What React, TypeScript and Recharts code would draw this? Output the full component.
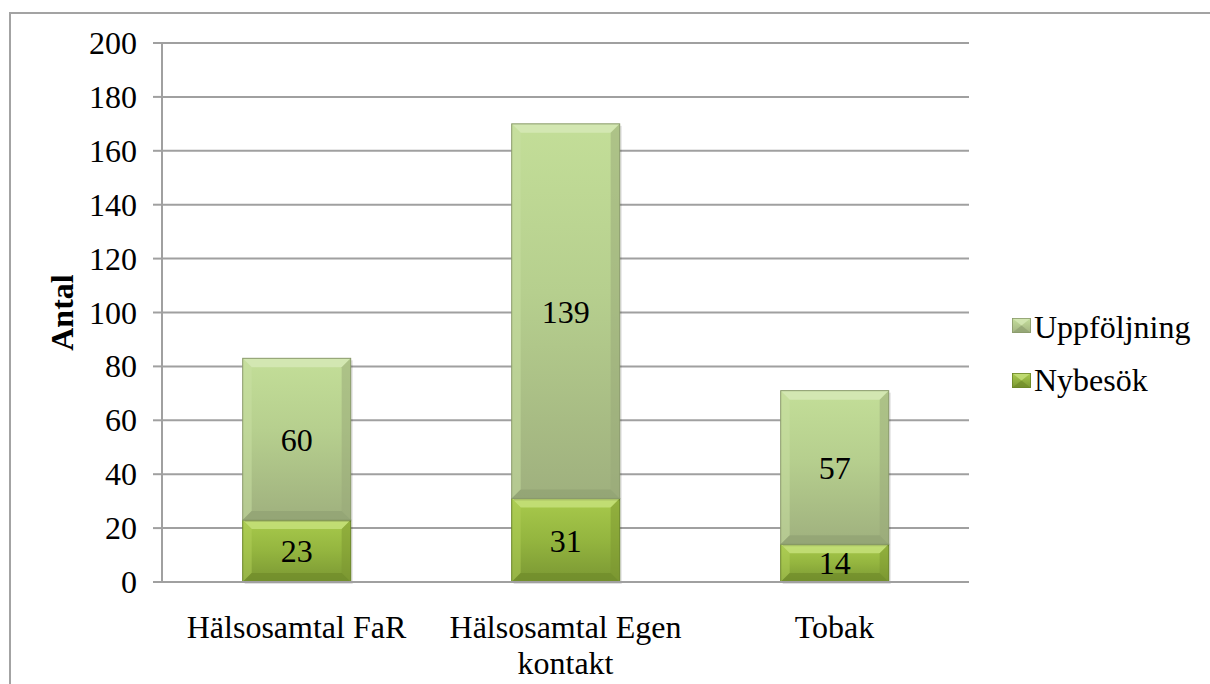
import React from 'react';
import { BarChart, Bar, XAxis, YAxis, CartesianGrid, LabelList } from 'recharts';

const categories = ['Hälsosamtal FaR', 'Hälsosamtal Egen kontakt', 'Tobak'];
const nybesok = [23, 31, 14];
const uppfoljning = [60, 139, 57];
const yTicks = [0, 20, 40, 60, 80, 100, 120, 140, 160, 180, 200];
const boundaryTicks = [0, 1, 2, 3];
const seriesNames = ['Nybesök', 'Uppföljning'];

const data = categories.map((c, i) => ({ name: c, nybesok: nybesok[i], uppfoljning: uppfoljning[i] }));

const FONT = "'Liberation Serif', 'DejaVu Serif', 'Times New Roman', serif";
const FS = 32;

type Pal = { grad: string; top: string; left: string; right: string; bottom: string; edge: string };
const palUpp: Pal = { grad: 'gUpp', top: '#d6e9b6', left: '#c9e0a3', right: '#97a878', bottom: '#8f9f71', edge: '#8a9a6c' };
const palNy: Pal = { grad: 'gNy', top: '#c6e07a', left: '#b2d05a', right: '#7b9630', bottom: '#6f8a2a', edge: '#6b8628' };

const BevelBar = (pal: Pal) => (props: any) => {
  const { x, y, width, height } = props;
  if (!height || height <= 0) return null;
  const b = Math.min(9, height / 3, width / 3);
  const x2 = x + width;
  const y2 = y + height;
  return (
    <g>
      <rect x={x + 2} y={y + 2} width={width} height={height} fill="rgba(0,0,0,0.12)" />
      <rect x={x} y={y} width={width} height={height} fill={`url(#${pal.grad})`} />
      <polygon points={`${x},${y} ${x2},${y} ${x2 - b},${y + b} ${x + b},${y + b}`} fill={pal.top} opacity={0.85} />
      <polygon points={`${x},${y} ${x + b},${y + b} ${x + b},${y2 - b} ${x},${y2}`} fill={pal.left} opacity={0.5} />
      <polygon points={`${x2},${y} ${x2},${y2} ${x2 - b},${y2 - b} ${x2 - b},${y + b}`} fill={pal.right} opacity={0.5} />
      <polygon points={`${x},${y2} ${x + b},${y2 - b} ${x2 - b},${y2 - b} ${x2},${y2}`} fill={pal.bottom} opacity={0.65} />
      <rect x={x} y={y} width={width} height={height} fill="none" stroke={pal.edge} strokeWidth={1} />
    </g>
  );
};

const CatTick = (props: any) => {
  const { x, y, payload } = props;
  const label: string = payload.value;
  const words = label.split(' ');
  const lines: string[] = [];
  let cur = '';
  words.forEach((w) => {
    const t = cur ? cur + ' ' + w : w;
    if (t.length > 16 && cur) {
      lines.push(cur);
      cur = w;
    } else cur = t;
  });
  if (cur) lines.push(cur);
  return (
    <text x={x} y={y} textAnchor="middle" style={{ fontFamily: FONT, fontSize: FS }} fill="#000">
      {lines.map((l, i) => (
        <tspan key={i} x={x} dy={i === 0 ? 48 : 36}>
          {l}
        </tspan>
      ))}
    </text>
  );
};

const YTick = (props: any) => {
  const { x, y, payload } = props;
  return (
    <text x={x} y={y} textAnchor="end" dominantBaseline="central" style={{ fontFamily: FONT, fontSize: FS }} fill="#000">
      {payload.value}
    </text>
  );
};

const LegendSwatch = ({ pal, top }: { pal: Pal; top: number }) => (
  <svg width={20} height={16} style={{ position: 'absolute', left: 1012, top }}>
    <rect x={0} y={0} width={19} height={15} fill={`url(#${pal.grad}L)`} />
    <polygon points="0,0 19,0 9.5,7.5" fill={pal.top} opacity={0.8} />
    <polygon points="0,15 19,15 9.5,7.5" fill={pal.bottom} opacity={0.7} />
    <rect x={0.5} y={0.5} width={18} height={14} fill="none" stroke={pal.edge} strokeWidth={0.8} />
  </svg>
);

const legendItems = [
  { name: seriesNames[1], pal: palUpp, textTop: 309, swTop: 318 },
  { name: seriesNames[0], pal: palNy, textTop: 362, swTop: 373 },
];

const LegendBox = () => (
  <>
    {legendItems.map((it) => (
      <React.Fragment key={it.name}>
        <LegendSwatch pal={it.pal} top={it.swTop} />
        <span style={{ position: 'absolute', left: 1034, top: it.textTop, fontFamily: FONT, fontSize: FS, color: '#000', lineHeight: '36px', whiteSpace: 'nowrap' }}>
          {it.name}
        </span>
      </React.Fragment>
    ))}
  </>
);

const AntalLabel = (props: any) => {
  const vb = props.viewBox || { x: 0, y: 0, width: 0, height: 0 };
  const cx = 62;
  const cy = vb.y + vb.height / 2 + 0;
  return (
    <text x={cx} y={cy} transform={`rotate(-90, ${cx}, ${cy})`} textAnchor="middle" dominantBaseline="central" style={{ fontFamily: FONT, fontSize: FS, fontWeight: 'bold' }} fill="#000">
      Antal
    </text>
  );
};

export default function App() {
  return (
    <div style={{ position: 'absolute', left: 0, top: 0, width: 1210, height: 684, background: '#fff', overflow: 'hidden', fontFamily: FONT }}>
      <div style={{ position: 'absolute', left: 9, top: 12, width: 1250, height: 720, borderLeft: '2px solid #a3a3a3', borderTop: '2px solid #a3a3a3' }} />
      <svg width={0} height={0} style={{ position: 'absolute' }}>
        <defs>
          <linearGradient id="gUppL" x1="0" y1="0" x2="0" y2="1">
            <stop offset="0%" stopColor="#c5df9c" />
            <stop offset="100%" stopColor="#a3b382" />
          </linearGradient>
          <linearGradient id="gNyL" x1="0" y1="0" x2="0" y2="1">
            <stop offset="0%" stopColor="#aacb4e" />
            <stop offset="100%" stopColor="#7a9833" />
          </linearGradient>
        </defs>
      </svg>
      <div style={{ position: 'absolute', left: 0, top: 0 }}>
        <BarChart width={1210} height={684} data={data} margin={{ top: 43, right: 241, bottom: 42, left: 0 }} barCategoryGap="30%">
          <defs>
            <linearGradient id="gUpp" x1="0" y1="0" x2="0" y2="1">
              <stop offset="0%" stopColor="#c3de98" />
              <stop offset="45%" stopColor="#b6cf8e" />
              <stop offset="100%" stopColor="#9fb07e" />
            </linearGradient>
            <linearGradient id="gNy" x1="0" y1="0" x2="0" y2="1">
              <stop offset="0%" stopColor="#a8ca4c" />
              <stop offset="50%" stopColor="#94b53f" />
              <stop offset="100%" stopColor="#7a9733" />
            </linearGradient>
          </defs>
          <CartesianGrid vertical={false} stroke="#a0a0a0" strokeWidth={2} yAxisId="y" xAxisId="cat" />
          <XAxis
            xAxisId="b"
            type="number"
            domain={[0, 3]}
            ticks={boundaryTicks}
            height={0}
            axisLine={false}
            tick={false}
            tickLine={{ stroke: '#a0a0a0', strokeWidth: 2 }}
            tickSize={9}
          />
          <XAxis
            xAxisId="cat"
            dataKey="name"
            height={60}
            axisLine={{ stroke: '#a0a0a0', strokeWidth: 2 }}
            tickLine={false}
            tick={<CatTick />}
            interval={0}
          />
          <YAxis
            yAxisId="y"
            width={162}
            domain={[0, 200]}
            ticks={yTicks}
            interval={0}
            axisLine={{ stroke: '#a0a0a0', strokeWidth: 2 }}
            tickLine={{ stroke: '#a0a0a0', strokeWidth: 2 }}
            tickSize={9}
            tickMargin={16}
            tick={<YTick />}
            label={<AntalLabel />}
          />
          <Bar dataKey="nybesok" name={seriesNames[0]} stackId="a" xAxisId="cat" yAxisId="y" isAnimationActive={false} shape={BevelBar(palNy)}>
            <LabelList dataKey="nybesok" position="center" style={{ fontFamily: FONT, fontSize: FS }} fill="#000" />
          </Bar>
          <Bar dataKey="uppfoljning" name={seriesNames[1]} stackId="a" xAxisId="cat" yAxisId="y" isAnimationActive={false} shape={BevelBar(palUpp)}>
            <LabelList dataKey="uppfoljning" position="center" style={{ fontFamily: FONT, fontSize: FS }} fill="#000" />
          </Bar>
        </BarChart>
      </div>
      <LegendBox />
    </div>
  );
}
